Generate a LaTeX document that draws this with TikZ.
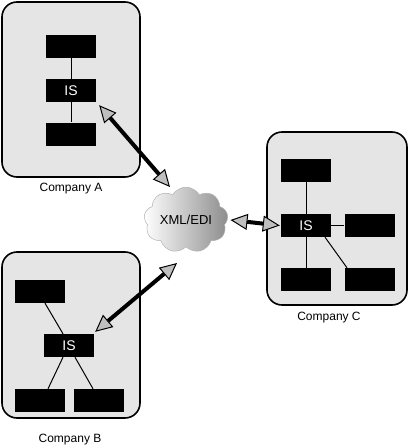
\documentclass[tikz,border=0pt]{standalone}
\usepackage{fontspec}
\setmainfont{Liberation Sans}
\usetikzlibrary{arrows.meta,shapes.symbols}
\begin{document}
\begin{tikzpicture}[x=1pt,y=-1pt,
  company/.style={draw=black,line width=1.6pt,fill=black!10,rounded corners=15pt},
  blk/.style={fill=black,draw=none,minimum width=50pt,minimum height=23pt,inner sep=0pt,text=white,font=\fontsize{14}{14}\selectfont},
  link/.style={line width=1pt},
  lbl/.style={font=\fontsize{12}{12}\selectfont},
  tip/.tip={Triangle[length=17pt,width=16pt,fill=black!25,line width=1pt]},
  biarrow/.style={line width=4pt,tip-tip}]
\useasboundingbox (0,0) rectangle (409,447);
% containers
\draw[company] (2,2) rectangle (140,177);
\draw[company] (2,252) rectangle (140,418);
\draw[company] (267,132) rectangle (407,305);
% Company A
\node[blk] (tA) at (71,46) {};
\node[blk] (isA) at (71,90.5) {IS};
\node[blk] (bA) at (71,134) {};
\draw[link] (tA) -- (isA);
\draw[link] (isA) -- (bA);
\node[lbl] (labA) at (71,189) {Company A};
% Company B
\node[blk] (tlB) at (39.5,291.5) {};
\node[blk] (isB) at (69,345.5) {IS};
\node[blk] (blB) at (39.5,400.5) {};
\node[blk] (brB) at (99,400.5) {};
\draw[link] ([xshift=5.5pt]tlB.south) -- ([xshift=-6pt]isB.north);
\draw[link] ([xshift=-6pt]isB.south) -- ([xshift=8.5pt]blB.north);
\draw[link] ([xshift=6pt]isB.south) -- ([xshift=-6pt]brB.north);
\node[lbl] (labB) at (70,440) {Company B};
% Company C
\node[blk] (tC) at (306,170.5) {};
\node[blk] (isC) at (306,225.5) {IS};
\node[blk] (rC) at (369.5,225.5) {};
\node[blk] (blC) at (306,279.5) {};
\node[blk] (brC) at (369.5,279.5) {};
\draw[link] (tC) -- (isC);
\draw[link] (isC) -- (blC);
\draw[link] (isC) -- (rC);
\draw[link] ([xshift=19pt]isC.south) -- ([xshift=-22.5pt]brC.north);
\node[lbl] (labC) at (329,318) {Company C};
% cloud
\node[cloud,cloud puffs=9,cloud puff arc=120,aspect=1.35,draw=black!30,line width=0.5pt,
  left color=white,middle color=black!5,right color=black!45,minimum width=84pt,minimum height=62pt,inner sep=0pt,
  font=\fontsize{13}{13}\selectfont] (cloud) at (186,220) {XML/EDI};
% arrows
\draw[biarrow] ([xshift=3pt,yshift=-3pt]isA.south east) -- ([xshift=-16pt,yshift=33pt]cloud.center);
\draw[biarrow] ([xshift=1pt,yshift=2pt]isB.north east) -- ([xshift=-9pt,yshift=-43pt]cloud.center);
\draw[biarrow] ([xshift=3pt]cloud.east) -- ([xshift=-1pt]isC.west);
\end{tikzpicture}
\end{document}
